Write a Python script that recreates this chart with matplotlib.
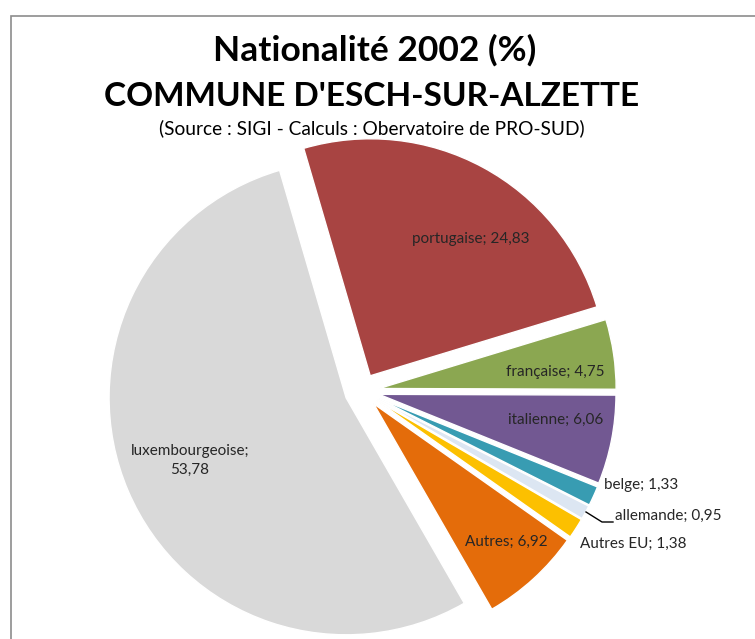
import matplotlib
matplotlib.use('Agg')
import matplotlib.pyplot as plt
from matplotlib.patches import Rectangle

# donnees (%)
nationalites = ['portugaise', 'française', 'italienne', 'belge', 'allemande',
                'Autres EU', 'Autres', 'luxembourgeoise']
parts = [24.83, 4.75, 6.06, 1.33, 0.95, 1.38, 6.92, 53.78]
etiquettes = ['portugaise; 24,83', 'française; 4,75', 'italienne; 6,06', 'belge; 1,33',
              'allemande; 0,95', 'Autres EU; 1,38', 'Autres; 6,92', 'luxembourgeoise;\n53,78']

couleurs = ['#A84442', '#8BA751', '#725892', '#389CB2', '#DCE6F2',
            '#FCC000', '#E46C0A', '#D9D9D9']

# label positions in image pixels (x, y from top) and alignment
pos_labels = [(471, 239, 'center'), (555, 372, 'center'), (556, 420, 'center'),
              (604, 485, 'left'), (615, 516, 'left'), (580, 544, 'left'),
              (506, 542, 'center'), (190, 460, 'center')]

W, H = 755, 639
police = 'Lato'

fig = plt.figure(figsize=(W / 100, H / 100), dpi=100)
ax = fig.add_axes([0, 0, 1, 1])

# pie centre and radius in pixels (y up)
cx, cy, R = 362, H - 391, 237
ax.pie(parts, colors=couleurs, startangle=106.3, counterclock=False,
       explode=[17.3] * len(parts), radius=R, center=(cx, cy),
       wedgeprops=dict(edgecolor='white', linewidth=1))
ax.set_xlim(0, W)
ax.set_ylim(0, H)
ax.set_aspect('equal')
ax.axis('off')

# chart frame
ax.add_patch(Rectangle((10.5, -20), W + 20, (H - 16) + 20, fill=False,
                       edgecolor='#8c8c8c', linewidth=1.2, clip_on=False))

# titles
ax.text(375, H - 47.5, 'Nationalité 2002 (%)', ha='center', va='center_baseline',
        fontsize=25.5, fontweight='bold', family=police, color='black')
ax.text(372, H - 94, "COMMUNE D'ESCH-SUR-ALZETTE", ha='center', va='center_baseline',
        fontsize=24, fontweight='bold', family=police, color='black')
ax.text(372, H - 127, '(Source : SIGI - Calculs : Obervatoire de PRO-SUD)',
        ha='center', va='center_baseline', fontsize=13.8, family=police, color='black')

# data labels
for lab, (x, y, al) in zip(etiquettes, pos_labels):
    ax.text(x, H - y, lab, ha=al, va='center', fontsize=11, family=police,
            color='#262626', linespacing=1.45)

# leader line for allemande
ax.plot([586, 602, 613], [H - 512, H - 522, H - 522], color='black', linewidth=1)

fig.savefig('out.png', dpi=100, facecolor='white')
